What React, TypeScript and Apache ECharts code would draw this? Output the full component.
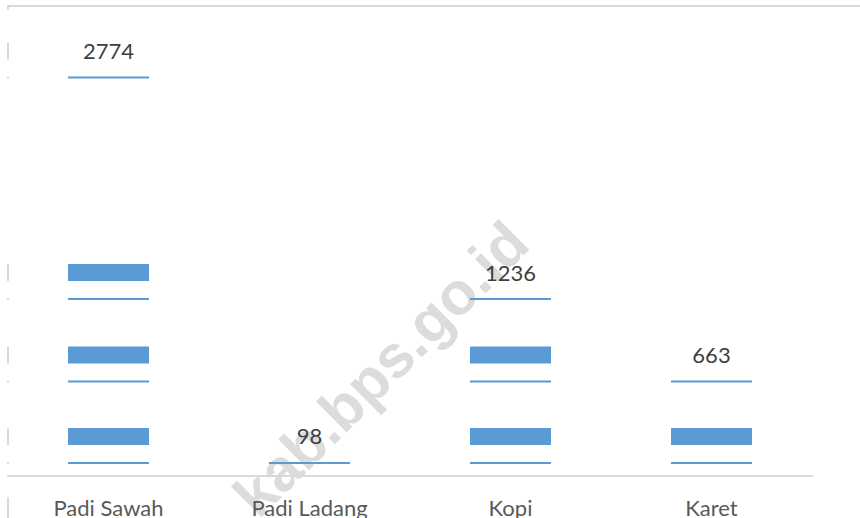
import React, { useEffect, useRef } from "react";
import * as echarts from "echarts";

const categories = ["Padi Sawah", "Padi Ladang", "Kopi", "Karet"];
const values = [2774, 98, 1236, 663];
const yMax = 3000;
const watermark = "kab.bps.go.id";

const BAR = "#5b9bd5";
const LINE = "#d9d9d9";
const FONT = "Lato";

export default function App() {
  const ref = useRef<HTMLDivElement>(null);
  useEffect(() => {
    if (!ref.current) return;
    const chart = echarts.init(ref.current, null, { renderer: "svg" });
    const gridLeft = 8;
    const option: any = {
      animation: false,
      backgroundColor: "#ffffff",
      grid: { left: gridLeft, top: 44, width: 804, height: 432 },
      xAxis: {
        type: "category",
        data: categories,
        axisLine: { show: true, lineStyle: { color: LINE, width: 2 } },
        axisTick: { show: false },
        axisLabel: { fontSize: 22, color: "#595959", fontFamily: FONT, margin: 20 },
        splitLine: { show: false },
      },
      yAxis: { type: "value", min: 0, max: yMax, show: false, splitLine: { show: false } },
      graphic: [
        {
          type: "text",
          x: 381,
          y: 369,
          rotation: Math.PI / 4,
          z: -10,
          style: {
            text: watermark,
            x: 0,
            y: 0,
            align: "center",
            verticalAlign: "middle",
            fill: "#dcdcdc",
            fontSize: 60,
            fontWeight: "bold",
            fontFamily: "Liberation Sans",
          },
        },
        { type: "rect", shape: { x: 7, y: 5, width: 853, height: 2 }, style: { fill: LINE } },
        { type: "rect", shape: { x: 7, y: 5, width: 2, height: 5 }, style: { fill: LINE } },
        { type: "rect", shape: { x: 7, y: 497, width: 2, height: 21 }, style: { fill: LINE } },
      ],
      series: [
        {
          type: "custom",
          data: values.map((v, i) => [i, v]),
          encode: { x: 0, y: 1 },
          renderItem: (params: any, api: any) => {
            const idx = params.dataIndex;
            const v = api.value(1);
            const top = api.coord([idx, v]);
            const base = api.coord([idx, 0])[1];
            const w = api.size([1, 0])[0] * 0.403;
            const x = top[0] - w / 2;
            const bands: [number, number][] = [];
            values.forEach((val) => {
              const yv = api.coord([0, val])[1];
              bands.push([yv - 34, yv - 17]);
              bands.push([yv, yv + 2]);
            });
            const children: any[] = [];
            bands.forEach(([a, b]) => {
              const y0 = Math.max(a, top[1]);
              const y1 = Math.min(b, base);
              if (y1 > y0) {
                children.push({
                  type: "rect",
                  shape: { x, y: y0, width: w, height: y1 - y0 },
                  style: { fill: BAR },
                });
              }
              if (idx === 0) {
                children.push({
                  type: "rect",
                  shape: { x: gridLeft - 1, y: a, width: 2, height: b - a },
                  style: { fill: LINE },
                });
              }
            });
            children.push({
              type: "text",
              style: {
                text: String(v),
                x: top[0],
                y: top[1] - 26,
                align: "center",
                verticalAlign: "middle",
                fill: "#404040",
                fontSize: 22,
                fontFamily: FONT,
              },
            });
            return { type: "group", children };
          },
        },
      ],
    };
    chart.setOption(option);
    return () => chart.dispose();
  }, []);
  return (
    <div
      ref={ref}
      style={{ position: "fixed", left: 0, top: 0, width: 860, height: 518, background: "#fff" }}
    />
  );
}
